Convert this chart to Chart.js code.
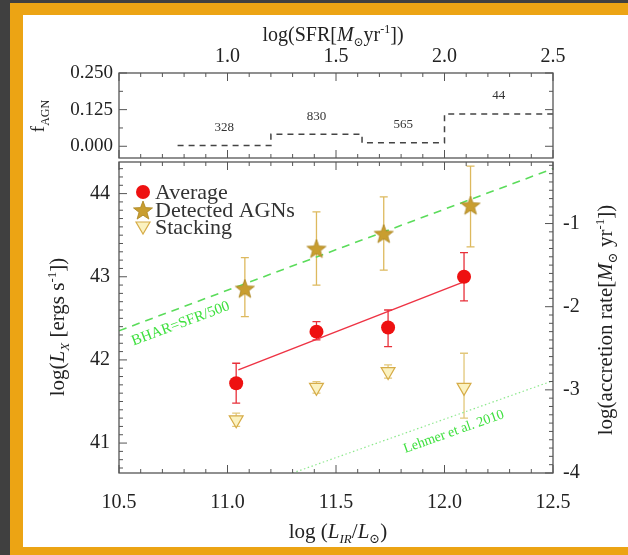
<!DOCTYPE html>
<html><head><meta charset="utf-8">
<script src="https://cdn.jsdelivr.net/npm/chart.js@4.4.1/dist/chart.umd.min.js"></script>
<style>
html,body{margin:0;padding:0;}
body{width:628px;height:555px;background:#404040;position:relative;overflow:hidden;}
#frame{position:absolute;left:10px;top:3px;width:640px;height:570px;background:#eca414;}
#panel{position:absolute;left:23px;top:15px;width:605px;height:532px;background:#fff;}
canvas{position:absolute;left:0;top:0;}
</style></head><body>
<div id="frame"></div><div id="panel"></div>
<canvas id="main" width="628" height="555"></canvas>
<canvas id="top" width="628" height="160"></canvas>
<script>
// ---------------- data ----------------
const irTicks   = [10.5, 11.0, 11.5, 12.0, 12.5];
const sfrTicks  = [1.0, 1.5, 2.0, 2.5];
const lxTicks   = [41, 42, 43, 44];
const accTicks  = [-4, -3, -2, -1];
const fTicks    = [0.0, 0.125, 0.25];

const avgX      = [11.04, 11.41, 11.74, 12.09];
const avgY      = [41.72, 42.34, 42.39, 43.00];
const avgErrLo  = [41.48, 42.24, 42.16, 42.71];
const avgErrHi  = [41.96, 42.46, 42.60, 43.29];

const agnX      = [11.08, 11.41, 11.72, 12.12];
const agnY      = [42.86, 43.34, 43.52, 43.86];
const agnErrLo  = [42.52, 42.90, 43.08, 43.36];
const agnErrHi  = [43.23, 43.78, 43.96, 44.33];

const stackX    = [11.04, 11.41, 11.74, 12.09];
const stackY    = [41.28, 41.67, 41.86, 41.67];
const stackErrLo= [41.20, 41.60, 41.78, 41.30];
const stackErrHi= [41.36, 41.74, 41.94, 42.08];

const fitX      = [11.05, 12.08];
const fitY      = [41.88, 42.93];
const bharX     = [10.5, 12.5];
const bharY     = [42.35, 44.30];
const lehmerX   = [11.3, 12.5];
const lehmerY   = [40.64, 41.75];

const sfrEdges  = [0.77, 1.20, 1.62, 2.00, 2.50];
const fAgn      = [0.003, 0.041, 0.012, 0.11];
const binCounts = [328, 830, 565, 44];

// ---------------- helpers ----------------
const F = "'Liberation Serif','DejaVu Serif',serif";
const INK = '#222';
const pts = (xs, ys) => xs.map((x, i) => ({x, y: ys[i]}));
const setTicks = arr => s => { s.ticks = arr.map(v => ({value: v})); };

function makeStar(R, fill, stroke) {
  const c = document.createElement('canvas');
  c.width = c.height = Math.ceil(2 * R + 2);
  const g = c.getContext('2d');
  g.translate(c.width / 2, c.height / 2 + R * 0.1);
  g.beginPath();
  for (let i = 0; i < 10; i++) {
    const r = i % 2 ? R * 0.42 : R;
    const a = -Math.PI / 2 + i * Math.PI / 5;
    g.lineTo(r * Math.cos(a), r * Math.sin(a));
  }
  g.closePath();
  g.fillStyle = fill; g.fill();
  g.strokeStyle = stroke; g.lineWidth = 0.8; g.stroke();
  return c;
}
const starImg = makeStar(10, '#c99e30', '#a98420');

function richText(ctx, segs, x, y, size, rot, color) {
  ctx.save();
  ctx.translate(x, y); ctx.rotate(rot || 0);
  const parts = segs.map(s => {
    const small = s.s || s.u;
    const sz = small ? Math.round(size * 0.62) : size;
    const f = (s.i ? 'italic ' : '') + sz + 'px ' + F;
    ctx.font = f;
    return {t: s.t, f, w: ctx.measureText(s.t).width, dy: s.s ? size * 0.25 : (s.u ? -size * 0.4 : 0)};
  });
  const W = parts.reduce((a, p) => a + p.w, 0);
  let cx = -W / 2;
  ctx.textBaseline = 'alphabetic'; ctx.textAlign = 'left';
  ctx.fillStyle = color || INK;
  for (const p of parts) { ctx.font = p.f; ctx.fillText(p.t, cx, p.dy); cx += p.w; }
  ctx.restore();
}

function drawFrameTicks(ctx, area, hScale, hMinor, hMajor, lScale, lMinor, lMajor, rScale, rMinor, rMajor) {
  ctx.save();
  ctx.strokeStyle = '#555'; ctx.lineWidth = 1.3;
  ctx.strokeRect(area.left, area.top, area.right - area.left, area.bottom - area.top);
  ctx.lineWidth = 1;
  const each = (s, minor, major, fn) => {
    const k0 = Math.ceil(s.min / minor - 1e-6), k1 = Math.floor(s.max / minor + 1e-6);
    for (let k = k0; k <= k1; k++) {
      const v = k * minor;
      const q = v / major;
      fn(s.getPixelForValue(v), Math.abs(q - Math.round(q)) < 1e-6);
    }
  };
  ctx.beginPath();
  each(hScale, hMinor, hMajor, (p, M) => {
    const L = M ? 8 : 4;
    ctx.moveTo(p, area.bottom); ctx.lineTo(p, area.bottom - L);
    ctx.moveTo(p, area.top); ctx.lineTo(p, area.top + L);
  });
  each(lScale, lMinor, lMajor, (p, M) => {
    const L = M ? 8 : 4;
    ctx.moveTo(area.left, p); ctx.lineTo(area.left + L, p);
  });
  each(rScale, rMinor, rMajor, (p, M) => {
    const L = M ? 8 : 4;
    ctx.moveTo(area.right, p); ctx.lineTo(area.right - L, p);
  });
  ctx.stroke();
  ctx.restore();
}

function errBars(ctx, xs, ys, lo, hi, xS, yS, color, cap) {
  ctx.save();
  ctx.strokeStyle = color; ctx.lineWidth = 1.3;
  ctx.beginPath();
  xs.forEach((x, i) => {
    const px = xS.getPixelForValue(x);
    const a = yS.getPixelForValue(lo[i]), b = yS.getPixelForValue(hi[i]);
    ctx.moveTo(px, a); ctx.lineTo(px, b);
    ctx.moveTo(px - cap, a); ctx.lineTo(px + cap, a);
    ctx.moveTo(px - cap, b); ctx.lineTo(px + cap, b);
  });
  ctx.stroke();
  ctx.restore();
}

function lineLabel(ctx, chart, xs, ys, atX, text, off, color, size) {
  const xS = chart.scales.x, yS = chart.scales.y;
  const x0 = xS.getPixelForValue(xs[0]), y0 = yS.getPixelForValue(ys[0]);
  const x1 = xS.getPixelForValue(xs[1]), y1 = yS.getPixelForValue(ys[1]);
  const ang = Math.atan2(y1 - y0, x1 - x0);
  const t = (atX - xs[0]) / (xs[1] - xs[0]);
  const ax = x0 + t * (x1 - x0), ay = y0 + t * (y1 - y0);
  ctx.save();
  ctx.translate(ax, ay); ctx.rotate(ang);
  ctx.font = size + 'px ' + F; ctx.fillStyle = color;
  ctx.textAlign = 'center'; ctx.textBaseline = 'middle';
  ctx.fillText(text, 0, off);
  ctx.restore();
}

const tickFont = {family: F, size: 20};
const noPad = s => { s.paddingTop = 0; s.paddingBottom = 0; };

// ---------------- main chart ----------------
const mainPlugin = {
  id: 'mainDeco',
  beforeDatasetsDraw(chart) {
    const {ctx, scales: {x, y}} = chart;
    ctx.save();
    ctx.beginPath();
    ctx.rect(chart.chartArea.left, chart.chartArea.top, chart.chartArea.right - chart.chartArea.left, chart.chartArea.bottom - chart.chartArea.top);
    ctx.clip();
    errBars(ctx, agnX, agnY, agnErrLo, agnErrHi, x, y, '#ddb95e', 4);
    errBars(ctx, stackX, stackY, stackErrLo, stackErrHi, x, y, '#e2c77a', 4);
    errBars(ctx, avgX, avgY, avgErrLo, avgErrHi, x, y, '#e8303a', 4);
    ctx.restore();
  },
  afterDraw(chart) {
    const {ctx, chartArea: a, scales: {x, y, y2}} = chart;
    drawFrameTicks(ctx, a, x, 0.1, 0.5, y, 0.1, 1, y2, 0.1, 1);
    // line annotations
    ctx.save();
    ctx.beginPath(); ctx.rect(a.left, a.top, a.right - a.left, a.bottom - a.top); ctx.clip();
    lineLabel(ctx, chart, bharX, bharY, 10.76, 'BHAR=SFR/500', 15, '#3ee03e', 15);
    lineLabel(ctx, chart, lehmerX, lehmerY, 12.02, 'Lehmer et al. 2010', 15, '#3ee03e', 14);
    ctx.restore();
    // legend
    const lx = 143, rows = [192, 210, 227];
    ctx.save();
    ctx.beginPath(); ctx.arc(lx, rows[0], 7, 0, Math.PI * 2);
    ctx.fillStyle = '#ee1111'; ctx.fill();
    ctx.drawImage(starImg, lx - starImg.width / 2, rows[1] - starImg.height / 2);
    ctx.beginPath();
    ctx.moveTo(lx - 7, rows[2] - 5); ctx.lineTo(lx + 7, rows[2] - 5); ctx.lineTo(lx, rows[2] + 7); ctx.closePath();
    ctx.fillStyle = '#fbf2c0'; ctx.fill(); ctx.strokeStyle = '#d6ac48'; ctx.lineWidth = 1.2; ctx.stroke();
    ctx.font = '22px ' + F; ctx.fillStyle = '#333'; ctx.textBaseline = 'alphabetic'; ctx.textAlign = 'left';
    ctx.fillText('Average', 155, rows[0] + 7);
    ctx.fillText('Detected AGNs', 155, rows[1] + 7);
    ctx.fillText('Stacking', 155, rows[2] + 7);
    ctx.restore();
    // axis titles
    richText(ctx, [{t: 'log('}, {t: 'L', i: 1}, {t: 'X', s: 1, i: 1}, {t: ' [ergs s'}, {t: '-1', u: 1}, {t: '])'}], 64, 327, 21, -Math.PI / 2);
    richText(ctx, [{t: 'log(accretion rate['}, {t: 'M', i: 1}, {t: '\u2299', s: 1}, {t: ' yr'}, {t: '-1', u: 1}, {t: '])'}], 612, 320, 21, -Math.PI / 2);
    richText(ctx, [{t: 'log ('}, {t: 'L', i: 1}, {t: 'IR', s: 1, i: 1}, {t: '/'}, {t: 'L', i: 1}, {t: '\u2299', s: 1}, {t: ')'}], 338, 538, 21, 0);
  }
};

new Chart(document.getElementById('main'), {
  data: {
    datasets: [
      {type: 'scatter', label: 'Average', data: pts(avgX, avgY), pointStyle: 'circle', pointRadius: 7,
       backgroundColor: '#ee1111', borderColor: '#ee1111', borderWidth: 0, order: 0},
      {type: 'scatter', label: 'Detected AGNs', data: pts(agnX, agnY), pointStyle: starImg, pointRadius: 10, order: 0},
      {type: 'scatter', label: 'Stacking', data: pts(stackX, stackY), pointStyle: 'triangle', pointRotation: 180, pointRadius: 8,
       backgroundColor: '#fbf2c0', borderColor: '#d6ac48', borderWidth: 1.2, order: 0},
      {type: 'line', label: 'fit', data: pts(fitX, fitY), borderColor: '#ee3344', borderWidth: 1.5, pointRadius: 0, order: 5},
      {type: 'line', label: 'BHAR=SFR/500', data: pts(bharX, bharY), borderColor: '#5bdc5b', borderWidth: 1.6, borderDash: [8, 6], pointRadius: 0, order: 6},
      {type: 'line', label: 'Lehmer', data: pts(lehmerX, lehmerY), borderColor: '#8ee88e', borderWidth: 1.2, borderDash: [1.5, 2.5], pointRadius: 0, order: 7}
    ]
  },
  options: {
    responsive: false, animation: false, events: [], devicePixelRatio: 1,
    layout: {padding: {top: 162, left: 0, right: 0, bottom: 0}},
    plugins: {legend: {display: false}, tooltip: {enabled: false}},
    scales: {
      x: {type: 'linear', position: 'bottom', min: 10.5, max: 12.5,
          afterBuildTicks: setTicks(irTicks), afterFit: s => { s.height = 82; },
          ticks: {font: tickFont, color: INK, padding: 18, maxRotation: 0, autoSkip: false, callback: v => v.toFixed(1)},
          grid: {display: false, drawTicks: false}, border: {display: false}},
      y: {type: 'linear', position: 'left', min: 40.64, max: 44.38,
          afterBuildTicks: setTicks(lxTicks), afterFit: s => { s.width = 119; noPad(s); },
          ticks: {font: tickFont, color: INK, padding: 9, autoSkip: false, callback: v => String(v)},
          grid: {display: false, drawTicks: false}, border: {display: false}},
      y2: {type: 'linear', position: 'right', min: -4.0, max: -0.26,
          afterBuildTicks: setTicks(accTicks), afterFit: s => { s.width = 75; noPad(s); },
          ticks: {font: tickFont, color: INK, padding: 10, autoSkip: false, callback: v => String(v)},
          grid: {display: false, drawTicks: false}, border: {display: false}}
    }
  },
  plugins: [mainPlugin]
});

// ---------------- top panel ----------------
const topPlugin = {
  id: 'topDeco',
  afterDraw(chart) {
    const {ctx, chartArea: a, scales: {x, y}} = chart;
    drawFrameTicks(ctx, a, x, 0.1, 0.5, y, 0.0625, 0.125, y, 0.0625, 0.125);
    ctx.save();
    ctx.font = '13px ' + F; ctx.fillStyle = '#333'; ctx.textAlign = 'center'; ctx.textBaseline = 'middle';
    binCounts.forEach((n, i) => {
      const mid = (sfrEdges[i] + sfrEdges[i + 1]) / 2;
      ctx.fillText(String(n), x.getPixelForValue(mid), y.getPixelForValue(fAgn[i]) - 18);
    });
    ctx.restore();
    richText(ctx, [{t: 'log(SFR['}, {t: 'M', i: 1}, {t: '\u2299', s: 1}, {t: 'yr'}, {t: '-1', u: 1}, {t: '])'}], 333, 41, 20, 0);
    // f_AGN label
    richText(ctx, [{t: 'f'}, {t: 'AGN', s: 1}], 44, 116, 19, -Math.PI / 2);
  }
};

new Chart(document.getElementById('top'), {
  type: 'line',
  data: {
    datasets: [
      {label: 'fAGN', data: pts(sfrEdges, fAgn.concat([fAgn[fAgn.length - 1]])), stepped: true,
       borderColor: '#444', borderWidth: 1.5, borderDash: [6, 5], pointRadius: 0, fill: false}
    ]
  },
  options: {
    responsive: false, animation: false, events: [], devicePixelRatio: 1,
    layout: {padding: {top: 0, left: 0, right: 75, bottom: 2}},
    plugins: {legend: {display: false}, tooltip: {enabled: false}},
    scales: {
      x: {type: 'linear', position: 'top', min: 0.5, max: 2.5,
          afterBuildTicks: setTicks(sfrTicks), afterFit: s => { s.height = 73; },
          ticks: {font: tickFont, color: INK, padding: 4, maxRotation: 0, autoSkip: false, callback: v => v.toFixed(1)},
          grid: {display: false, drawTicks: false}, border: {display: false}},
      y: {type: 'linear', position: 'left', min: -0.04, max: 0.25,
          afterBuildTicks: setTicks(fTicks), afterFit: s => { s.width = 119; noPad(s); },
          ticks: {font: {family: F, size: 19}, color: INK, padding: 6, autoSkip: false, callback: v => v.toFixed(3)},
          grid: {display: false, drawTicks: false}, border: {display: false}}
    }
  },
  plugins: [topPlugin]
});
</script>
</body></html>
